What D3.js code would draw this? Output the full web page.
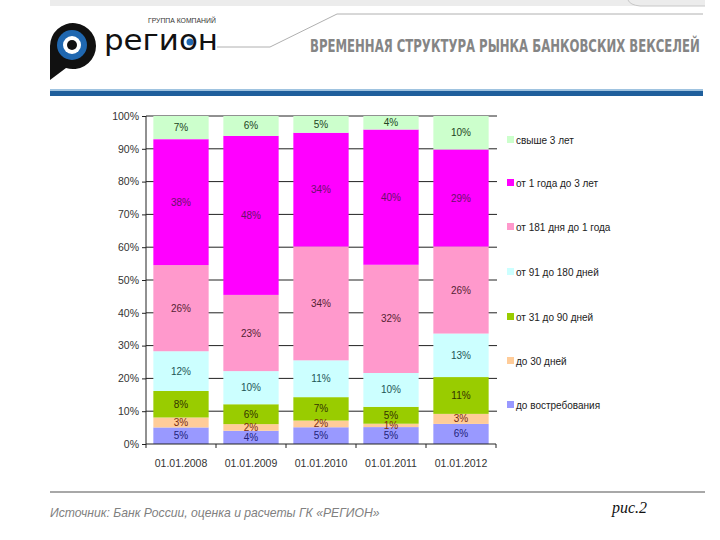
<!DOCTYPE html>
<html><head><meta charset="utf-8">
<script src="https://cdn.jsdelivr.net/npm/d3@7"></script>
<style>body{margin:0;background:#fff}svg{display:block}</style>
</head><body>
<script>
const categories = ["01.01.2008","01.01.2009","01.01.2010","01.01.2011","01.01.2012"];
const seriesNames = ["до востребования","до 30 дней","от 31 до 90 дней","от 91 до 180 дней","от 181 дня до 1 года","от 1 года до 3 лет","свыше 3 лет"];
const seriesColors = ["#9999ff","#ffcc99","#99cc00","#ccffff","#ff99cc","#ff00ff","#ccffcc"];
const labelColors = ["#22227a","#7a2a10","#333300","#225555","#552233","#6a106a","#224422"];
// values by series per category, in %
const vDemand   = [5, 4, 5, 5, 6];
const v30       = [3, 2, 2, 1, 3];
const v31_90    = [8, 6, 7, 5, 11];
const v91_180   = [12, 10, 11, 10, 13];
const v181_1y   = [26, 23, 34, 32, 26];
const v1y_3y    = [38, 48, 34, 40, 29];
const vOver3y   = [7, 6, 5, 4, 10];
const yTicks = [0,10,20,30,40,50,60,70,80,90,100];

const allSeries = [vDemand, v30, v31_90, v91_180, v181_1y, v1y_3y, vOver3y];
const table = categories.map((c,i)=>{const o={cat:c}; seriesNames.forEach((s,j)=>o[s]=allSeries[j][i]); return o;});

const W=720,H=540;
const svg=d3.select("body").append("svg").attr("width",W).attr("height",H);

// fit a text horizontally to a width using a scale transform
function fitText(sel, x, yb, width){
  const n=sel.node(); const w=n.getComputedTextLength();
  sel.attr("x",0).attr("y",0).attr("transform",`translate(${x},${yb}) scale(${width/w},1)`);
}

// ---- header ----
svg.append("rect").attr("x",50).attr("y",0).attr("width",655).attr("height",6).attr("fill","#ececec");
svg.append("path").attr("d","M628,0 Q630,5 640,6 L705,6").attr("fill","none").attr("stroke","#c8c8c8");
svg.append("path").attr("d","M217,47 L270,47 L337,14 L703,14").attr("fill","none").attr("stroke","#b0b0b0").attr("stroke-width",1);
svg.append("rect").attr("x",50).attr("y",89).attr("width",653).attr("height",2).attr("fill","#9fc3e0");
svg.append("rect").attr("x",50).attr("y",91).attr("width",653).attr("height",5).attr("fill","#1f5f9c");
// logo icon
const g0=svg.append("g");
g0.append("path").attr("d","M50,80 L50,46 A23,23 0 1 1 66,68 L58,74 Z").attr("fill","#111");
g0.append("circle").attr("cx",72).attr("cy",45).attr("r",15).attr("fill","#1f67b0");
g0.append("circle").attr("cx",72).attr("cy",45).attr("r",9).attr("fill","#fff");
g0.append("circle").attr("cx",72).attr("cy",45).attr("r",5).attr("fill","#111");
const logoT=svg.append("text").attr("font-family","DejaVu Sans").attr("font-size",28).attr("fill","#111").text("регион");
fitText(logoT,104,50,114);
svg.append("circle").attr("cx",190).attr("cy",42).attr("r",3.5).attr("fill","#1f67b0");
const grpT=svg.append("text").attr("font-family","Liberation Sans Narrow, Arial").attr("font-size",6.5).attr("fill","#333").text("ГРУППА КОМПАНИЙ");
fitText(grpT,148,23,68);
const titleT=svg.append("text").attr("font-family","Liberation Sans Narrow, DejaVu Sans Condensed, Arial")
  .attr("font-weight","bold").attr("font-size",17).attr("fill","#858585").text("ВРЕМЕННАЯ СТРУКТУРА РЫНКА БАНКОВСКИХ ВЕКСЕЛЕЙ");
fitText(titleT,310,52,390);

// ---- chart ----
const x0=146,x1=496,yTop=116,yBot=444;
const x=d3.scaleBand().domain(categories).range([x0,x1]).paddingInner(0.21).paddingOuter(0.105);
const y=d3.scaleLinear().domain([0,1]).range([yBot,yTop]);
const stack=d3.stack().keys(seriesNames).offset(d3.stackOffsetExpand);
const stacked=stack(table);

// gridlines
svg.append("g").selectAll("line").data(yTicks.slice(1)).join("line")
  .attr("x1",x0).attr("x2",x1+1).attr("y1",d=>y(d/100)).attr("y2",d=>y(d/100))
  .attr("stroke","#222").attr("stroke-width",1);

// bars
const layers=svg.append("g").selectAll("g").data(stacked).join("g").attr("fill",(d,i)=>seriesColors[i]);
layers.selectAll("rect").data(d=>d).join("rect")
  .attr("x",d=>x(d.data.cat)).attr("width",x.bandwidth())
  .attr("y",d=>y(d[1])).attr("height",d=>y(d[0])-y(d[1]));
// labels
stacked.forEach((layer,i)=>{
  svg.append("g").selectAll("text").data(layer).join("text")
    .attr("x",d=>x(d.data.cat)+x.bandwidth()/2)
    .attr("y",d=>(y(d[0])+y(d[1]))/2+3.5)
    .attr("text-anchor","middle").attr("font-family","Liberation Sans, Arial").attr("font-size",10)
    .attr("fill",labelColors[i]).text(d=>d.data[seriesNames[i]]+"%");
});

// y axis
const yAxis=d3.axisLeft(y).tickValues(yTicks.map(d=>d/100)).tickFormat(d=>Math.round(d*100)+"%").tickSize(4).tickPadding(3);
const ya=svg.append("g").attr("transform",`translate(${x0},0)`).call(yAxis);
ya.select(".domain").attr("stroke","#222").attr("d",`M0,${yTop}V${yBot}`);
ya.selectAll(".tick line").attr("stroke","#222");
ya.selectAll("text").attr("font-family","Liberation Sans, Arial").attr("font-size",10.5).attr("fill","#333");
// x axis
const xa=svg.append("g").attr("transform",`translate(0,${yBot})`).call(d3.axisBottom(x).tickSize(0).tickPadding(16));
xa.select(".domain").attr("stroke","#222").attr("d",`M${x0},0H${x1}`);
xa.selectAll("text").attr("font-family","Liberation Sans, Arial").attr("font-size",10.5).attr("fill","#333");
svg.append("g").selectAll("line").data(d3.range(categories.length+1)).join("line")
  .attr("x1",i=>x0+i*(x1-x0)/categories.length).attr("x2",i=>x0+i*(x1-x0)/categories.length)
  .attr("y1",yBot).attr("y2",yBot+4).attr("stroke","#222");

// legend
const legY=[140,183,227,272,317,361,405];
const leg=svg.append("g").selectAll("g").data(seriesNames.slice().reverse()).join("g")
  .attr("transform",(d,i)=>`translate(507,${legY[i]})`);
leg.append("rect").attr("x",0).attr("y",-4).attr("width",7).attr("height",7)
  .attr("fill",d=>seriesColors[seriesNames.indexOf(d)]);
leg.append("text").attr("x",9).attr("y",3.5).attr("font-family","Liberation Sans Narrow, Liberation Sans, Arial")
  .attr("font-size",10).attr("fill","#222").text(d=>d);

// footer
svg.append("rect").attr("x",50).attr("y",491).attr("width",655).attr("height",2).attr("fill","#a8a8a8");
const srcT=svg.append("text").attr("font-family","Liberation Sans Narrow, Liberation Sans, Arial")
  .attr("font-style","italic").attr("font-size",12).attr("fill","#808080").text("Источник: Банк России, оценка и расчеты ГК «РЕГИОН»");
fitText(srcT,50,517,330);
svg.append("text").attr("x",612).attr("y",513).attr("font-family","Liberation Serif, DejaVu Serif")
  .attr("font-style","italic").attr("font-size",16).attr("fill","#111").text("рис.2");
</script>
</body></html>
